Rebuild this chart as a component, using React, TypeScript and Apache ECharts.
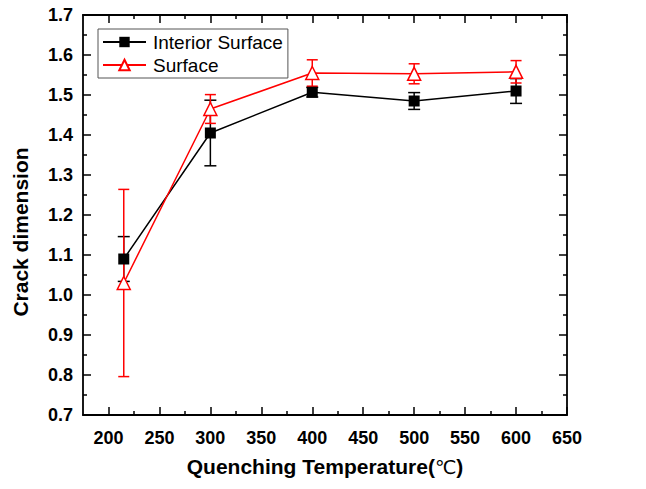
import React, { useEffect, useRef } from "react";
import * as echarts from "echarts";

const temps = [215, 300, 400, 500, 600];
const interiorVals = [1.09, 1.405, 1.507, 1.485, 1.51];
const interiorErr = [0.056, 0.082, 0.012, 0.021, 0.031];
const surfaceVals = [1.03, 1.465, 1.555, 1.553, 1.558];
const surfaceErr = [0.234, 0.036, 0.033, 0.025, 0.028];
const xMajor = [200, 250, 300, 350, 400, 450, 500, 550, 600, 650];
const xMinor = [225, 275, 325, 375, 425, 475, 525, 575, 625];

function errorSeries(name: string, vals: number[], errs: number[], color: string, cap: number) {
  const data = temps.map((t, i) => [t, vals[i] - errs[i], vals[i] + errs[i]]);
  return {
    type: "custom",
    name: name + "_err",
    xAxisIndex: 0,
    yAxisIndex: 0,
    z: 1,
    silent: true,
    data,
    renderItem: (params: any, api: any) => {
      const x = api.value(0);
      const lo = api.coord([x, api.value(1)]);
      const hi = api.coord([x, api.value(2)]);
      const style = { stroke: color, lineWidth: 1.5 };
      return {
        type: "group",
        children: [
          { type: "line", shape: { x1: lo[0], y1: lo[1], x2: hi[0], y2: hi[1] }, style },
          { type: "line", shape: { x1: lo[0] - cap / 2, y1: lo[1], x2: lo[0] + cap / 2, y2: lo[1] }, style },
          { type: "line", shape: { x1: hi[0] - cap / 2, y1: hi[1], x2: hi[0] + cap / 2, y2: hi[1] }, style },
        ],
      };
    },
  };
}

export default function App() {
  const ref = useRef<HTMLDivElement>(null);
  useEffect(() => {
    document.body.style.margin = "0";
    const chart = echarts.init(ref.current!, null, { renderer: "svg" });
    const font = "Liberation Sans, Arial, sans-serif";
    const axisLine = { show: true, lineStyle: { color: "#000", width: 1.8 } };
    const baseX = { type: "value", min: 175, max: 650, splitLine: { show: false } };
    chart.setOption({
      animation: false,
      backgroundColor: "#fff",
      textStyle: { fontFamily: font },
      grid: { left: 83, right: 79, top: 15, bottom: 74 },
      graphic: [
        {
          type: "text",
          x: 20,
          y: 232,
          rotation: Math.PI / 2,
          style: {
            text: "Crack dimension",
            fontSize: 21,
            fontWeight: "bold",
            fontFamily: font,
            fill: "#000",
            align: "center",
            verticalAlign: "middle",
          },
        },
      ],
      legend: {
        left: 98,
        top: 29,
        orient: "vertical",
        itemGap: 1,
        itemWidth: 43,
        itemHeight: 13,
        padding: [2, 5, 2, 4],
        borderColor: "#555",
        borderWidth: 1,
        textStyle: { fontSize: 19, lineHeight: 22, color: "#000", fontFamily: font, padding: [0, 0, 0, 2] },
        data: ["Interior Surface", "Surface"],
      },
      xAxis: [
        {
          ...baseX,
          position: "bottom",
          axisLine,
          axisTick: { show: true, inside: true, length: 8, customValues: xMajor, lineStyle: { width: 1.5, color: "#000" } },
          axisLabel: { customValues: xMajor, margin: 14, fontSize: 18, fontWeight: "bold", color: "#000", fontFamily: font },
          name: "Quenching Temperature({c|℃})",
          nameLocation: "middle",
          nameGap: 41,
          nameTextStyle: {
            fontSize: 21,
            fontWeight: "bold",
            color: "#000",
            fontFamily: font,
            rich: { c: { fontSize: 19, fontWeight: "normal", color: "#000", fontFamily: "DejaVu Sans" } },
          },
        },
        {
          ...baseX,
          position: "bottom",
          axisLine: { show: false },
          axisTick: { show: true, inside: true, length: 4, customValues: xMinor, lineStyle: { width: 1.5, color: "#000" } },
          axisLabel: { show: false },
        },
        {
          ...baseX,
          position: "top",
          axisLine,
          axisTick: { show: true, inside: true, length: 8, customValues: xMajor, lineStyle: { width: 1.5, color: "#000" } },
          axisLabel: { show: false },
        },
        {
          ...baseX,
          position: "top",
          axisLine: { show: false },
          axisTick: { show: true, inside: true, length: 4, customValues: xMinor, lineStyle: { width: 1.5, color: "#000" } },
          axisLabel: { show: false },
        },
      ],
      yAxis: [
        {
          type: "value",
          min: 0.7,
          max: 1.7,
          interval: 0.1,
          position: "left",
          splitLine: { show: false },
          axisLine,
          axisTick: { show: true, inside: true, length: 8, lineStyle: { width: 1.5, color: "#000" } },
          minorTick: { show: true, splitNumber: 2, length: 4, lineStyle: { width: 1.5, color: "#000" } },
          axisLabel: {
            margin: 10,
            fontSize: 18,
            fontWeight: "bold",
            color: "#000",
            fontFamily: font,
            formatter: (v: number) => v.toFixed(1),
          },
        },
        {
          type: "value",
          min: 0.7,
          max: 1.7,
          interval: 0.1,
          position: "right",
          splitLine: { show: false },
          axisLine,
          axisTick: { show: true, inside: true, length: 8, lineStyle: { width: 1.5, color: "#000" } },
          minorTick: { show: true, splitNumber: 2, length: 4, lineStyle: { width: 1.5, color: "#000" } },
          axisLabel: { show: false },
        },
      ],
      series: [
        errorSeries("Interior Surface", interiorVals, interiorErr, "#000", 12),
        errorSeries("Surface", surfaceVals, surfaceErr, "#ff0000", 11),
        {
          type: "line",
          name: "Interior Surface",
          data: temps.map((t, i) => [t, interiorVals[i]]),
          symbol: "rect",
          symbolSize: 11,
          z: 3,
          itemStyle: { color: "#000" },
          lineStyle: { color: "#000", width: 1.5 },
        },
        {
          type: "line",
          name: "Surface",
          data: temps.map((t, i) => [t, surfaceVals[i]]),
          symbol: "triangle",
          symbolSize: 13,
          z: 4,
          itemStyle: { color: "#fff", borderColor: "#ff0000", borderWidth: 1.5 },
          lineStyle: { color: "#ff0000", width: 1.5 },
        },
      ],
    });
    return () => chart.dispose();
  }, []);
  return <div ref={ref} style={{ position: "absolute", left: 0, top: 0, width: 646, height: 489 }} />;
}
